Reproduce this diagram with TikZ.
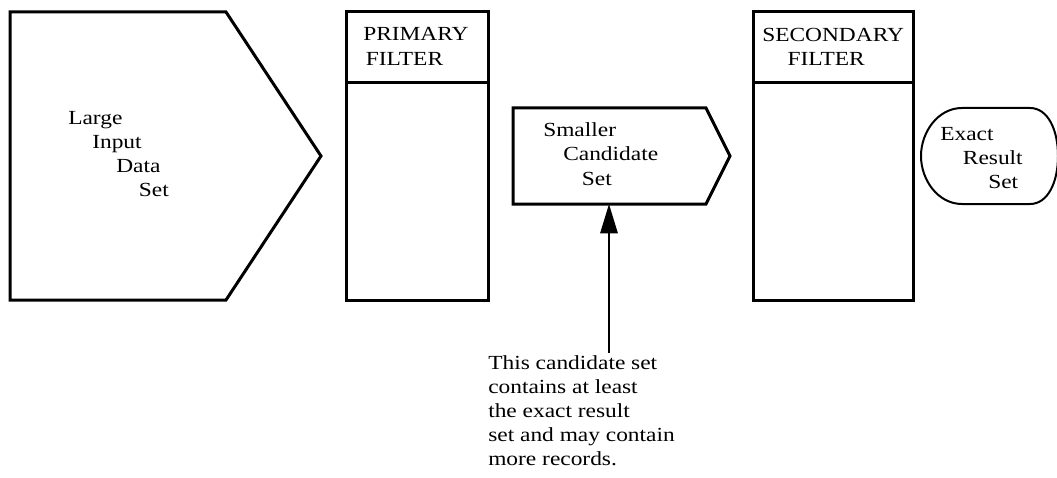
\documentclass[tikz,border=0pt]{standalone}
\usepackage{fontspec}
\setmainfont{Liberation Serif}[FakeStretch=1.17]
\usetikzlibrary{arrows.meta}

\begin{document}
\begin{tikzpicture}[x=0.75pt,y=-0.75pt,
    box/.style={line width=2.25pt, black},
    label/.style={anchor=base west, inner sep=0pt, align=left, font=\fontsize{15pt}{18pt}\selectfont}]
            \useasboundingbox (0,0) rectangle (1057,478);
            % large input data set
            \draw [box] (10,12) -- (226,12) -- (321,156) -- (226,300) -- (10,300) -- cycle;
            \node [label] (inputtext) at (68,196) {Large\\\hspace*{18pt}Input\\\hspace*{36pt}Data\\\hspace*{53pt}Set};
            % primary filter
            \draw [box] (346,12) rectangle (488,300);
            \draw [box] (346,83) -- (488,83);
            \node [label] (primarytext) at (363,65) {PRIMARY\\\hspace*{2pt}FILTER};
            % smaller candidate set
            \draw [box] (513,108) -- (706,108) -- (730,156) -- (706,204) -- (513,204) -- cycle;
            \node [label] (candtext) at (543,185) {Smaller\\\hspace*{15pt}Candidate\\\hspace*{29pt}Set};
            \coordinate (cand) at (609,204);
            % secondary filter
            \draw [box] (753,12) rectangle (913,300);
            \draw [box] (753,83) -- (913,83);
            \node [label] (secondarytext) at (762,66) {SECONDARY\\\hspace*{19pt}FILTER};
            % exact result set
            \draw [line width=1.5pt, black] (996,108) -- (1030,108) .. controls (1048,108) and (1058,130) .. (1058,156) .. controls (1058,182) and (1048,204) .. (1030,204) -- (962,204) .. controls (938,204) and (921,180) .. (921,156) .. controls (921,132) and (938,108) .. (962,108) -- cycle;
            \node [label] (exacttext) at (940,188) {Exact\\\hspace*{17pt}Result\\\hspace*{36pt}Set};
            % note and arrow up
            \node [label] (note) at (488,465) {This candidate set\\contains at least\\the exact result\\set and may contain\\more records.};
            \coordinate (notetop) at (609,353);
            \draw [line width=1.5pt, black, -{Triangle[length=22pt,width=13pt]}] (notetop) -- (cand);
         \end{tikzpicture}
\end{document}
